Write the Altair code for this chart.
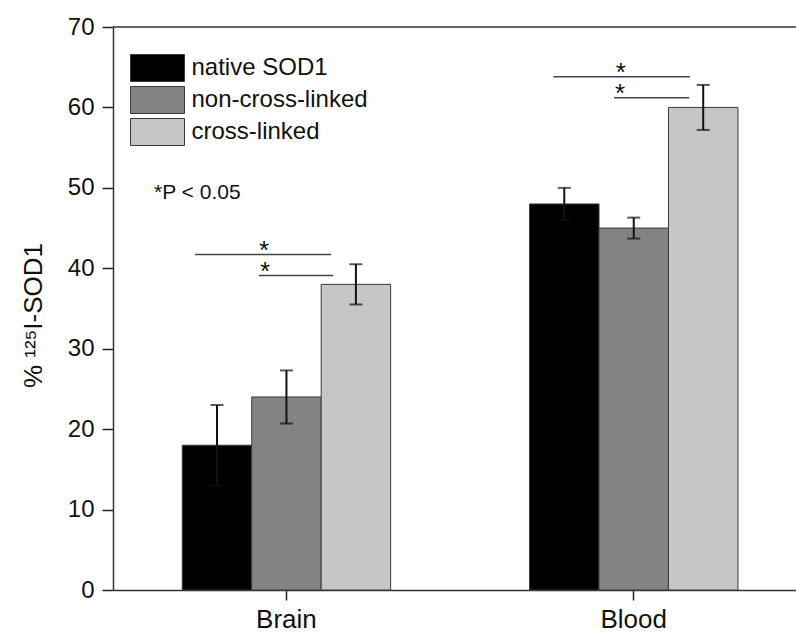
import altair as alt
import pandas as pd

tissues = ["Brain", "Blood"]
series = ["native SOD1", "non-cross-linked", "cross-linked"]
colors = ["#000000", "#838383", "#c6c6c6"]
brain_vals = [18, 24, 38]
blood_vals = [48, 45, 60]
brain_err = [5.0, 3.3, 2.5]
blood_err = [2.0, 1.3, 2.8]

# significance brackets (x in group units: Brain = 1, Blood = 2)
sig_x1 = [0.736, 0.920, 1.768, 1.943]
sig_x2 = [1.128, 1.134, 2.161, 2.159]
sig_y = [41.7, 39.1, 63.8, 61.2]
star_x = [0.935, 0.938, 1.962, 1.960]
note_text = "*P < 0.05"
note_x = 0.618
note_y = 49.3

rows = []
for t, vals, errs in [("Brain", brain_vals, brain_err), ("Blood", blood_vals, blood_err)]:
    for s, v, e in zip(series, vals, errs):
        rows.append({"tissue": t, "series": s, "value": v, "lo": v - e, "hi": v + e})
df = pd.DataFrame(rows)
caps = pd.concat([
    df.assign(cap=df["lo"]),
    df.assign(cap=df["hi"]),
])
sig = pd.DataFrame({"x1": sig_x1, "x2": sig_x2, "y": sig_y, "sx": star_x, "star": ["*"] * 4})
note = pd.DataFrame({"x": [note_x], "y": [note_y], "t": [note_text]})

W, H = 683, 563
yscale = alt.Scale(domain=[0, 70], nice=False)
xband = alt.X("tissue:N", sort=tissues, title=None,
              scale=alt.Scale(paddingInner=0.4, paddingOuter=0.1833, align=0.544),
              axis=alt.Axis(labelAngle=0, labelFontSize=26, labelPadding=6, tickSize=10,
                            tickWidth=1.5, tickColor="#222", domainColor="#333", domainWidth=1.5,
                            labelColor="#111"))
yenc = alt.Y("value:Q", scale=yscale, title="% \u00b9\u00b2\u2075I-SOD1",
             axis=alt.Axis(values=[0, 10, 20, 30, 40, 50, 60, 70], tickSize=11, tickWidth=1.5,
                           tickColor="#222", domainColor="#333", domainWidth=1.5, grid=False,
                           labelFontSize=24, labelPadding=8, labelColor="#111",
                           titleFontSize=26, titleFontWeight="normal", titleColor="#111",
                           titleX=-80, titleY=288, titleAlign="center", titleBaseline="middle",
                           titleAngle=270))
xoff = alt.XOffset("series:N", sort=series, scale=alt.Scale(paddingInner=0, paddingOuter=0))

bars = alt.Chart(df).mark_bar(stroke="#3a3a3a", strokeWidth=1).encode(
    x=xband, xOffset=xoff, y=yenc,
    color=alt.Color("series:N", sort=series,
                    scale=alt.Scale(domain=series, range=colors),
                    legend=alt.Legend(title=None, orient="none", legendX=30.5, legendY=27,
                                      symbolType="M-2,-1H2V1H-2Z", symbolSize=729,
                                      symbolStrokeColor="#3a3a3a", symbolStrokeWidth=1,
                                      symbolOpacity=1, labelFontSize=24, labelOffset=20,
                                      labelLimit=400, labelColor="#111", rowPadding=0)),
)
err = alt.Chart(df).mark_rule(color="#111", strokeWidth=2).encode(
    x=alt.X("tissue:N", sort=tissues), xOffset=alt.XOffset("series:N", sort=series),
    y=alt.Y("lo:Q", scale=yscale), y2="hi:Q",
)
cap = alt.Chart(caps).mark_tick(color="#111", size=13, thickness=2, orient="horizontal").encode(
    x=alt.X("tissue:N", sort=tissues), xOffset=alt.XOffset("series:N", sort=series),
    y=alt.Y("cap:Q", scale=yscale),
)
base = alt.layer(bars, err, cap)

ux = alt.Scale(domain=[0.5, 0.5 + W / 347.3], nice=False, zero=False)
lines = alt.Chart(sig).mark_rule(color="#444", strokeWidth=1.5).encode(
    x=alt.X("x1:Q", scale=ux, axis=None), x2="x2:Q", y=alt.Y("y:Q", scale=yscale),
)
stars = alt.Chart(sig).mark_text(fontSize=26, color="#111", dy=4, baseline="alphabetic").encode(
    x=alt.X("sx:Q", scale=ux, axis=None), y=alt.Y("y:Q", scale=yscale), text="star:N",
)
notes = alt.Chart(note).mark_text(fontSize=21, color="#111", align="left", baseline="middle").encode(
    x=alt.X("x:Q", scale=ux, axis=None), y=alt.Y("y:Q", scale=yscale), text="t:N",
)
top = alt.Chart(note).mark_rule(color="#333", strokeWidth=1.5).encode(y=alt.datum(70, scale=yscale))
over = alt.layer(lines, stars, notes, top)

chart = alt.layer(base, over).resolve_scale(x="independent").properties(
    width=W, height=H,
    autosize=alt.AutoSizeParams(type="none"),
    padding={"left": 113, "top": 27, "right": 0, "bottom": 43},
).configure(font="Liberation Sans").configure_view(strokeOpacity=0)

chart.save("out.html", embed_options={"renderer": "svg", "actions": False})
